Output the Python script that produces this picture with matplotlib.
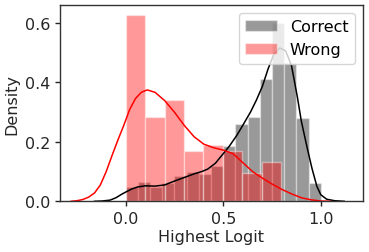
import numpy as np
import matplotlib
matplotlib.use("Agg")
import matplotlib.pyplot as plt

# histogram of "Correct" (16 bins over 0..1)
correct_edges = np.linspace(0.0, 1.0, 17)
correct_heights = [0.049, 0.066, 0.048, 0.062, 0.086, 0.097, 0.092, 0.118,
                   0.187, 0.260, 0.282, 0.411, 0.598, 0.465, 0.279, 0.061]

# histogram of "Wrong" (8 bins over 0..0.8)
wrong_edges = np.linspace(0.0, 0.797, 9)
wrong_heights = [0.627, 0.283, 0.341, 0.170, 0.188, 0.170, 0.094, 0.131]

# kde curves
correct_kde_x = [-0.16, -0.12, -0.08, -0.05, -0.02, 0.0, 0.03, 0.06, 0.10, 0.15,
                 0.20, 0.25, 0.30, 0.35, 0.39, 0.42, 0.46, 0.49, 0.53, 0.57,
                 0.60, 0.64, 0.67, 0.70, 0.73, 0.76, 0.79, 0.82, 0.85, 0.88,
                 0.90, 0.93, 0.955, 0.98, 1.0, 1.03, 1.07, 1.12]
correct_kde_y = [0.0, 0.001, 0.004, 0.012, 0.024, 0.031, 0.041, 0.048, 0.052, 0.051,
                 0.055, 0.068, 0.080, 0.092, 0.100, 0.108, 0.128, 0.152, 0.184, 0.222,
                 0.255, 0.300, 0.340, 0.385, 0.445, 0.495, 0.515, 0.505, 0.455, 0.350,
                 0.270, 0.180, 0.110, 0.050, 0.022, 0.007, 0.002, 0.0]

wrong_kde_x = [-0.28, -0.25, -0.22, -0.19, -0.16, -0.13, -0.10, -0.07, -0.04, -0.01,
               0.02, 0.05, 0.08, 0.11, 0.15, 0.20, 0.25, 0.30, 0.35, 0.40,
               0.45, 0.50, 0.55, 0.60, 0.65, 0.70, 0.75, 0.80, 0.85, 0.90,
               0.95, 1.0, 1.05]
wrong_kde_y = [0.0, 0.002, 0.006, 0.014, 0.028, 0.055, 0.100, 0.154, 0.206, 0.255,
               0.308, 0.345, 0.366, 0.374, 0.366, 0.338, 0.299, 0.255, 0.217, 0.192,
               0.180, 0.172, 0.160, 0.130, 0.100, 0.078, 0.058, 0.040, 0.025, 0.012,
               0.005, 0.001, 0.0]

fs = 11.5
dark = "#262626"

fig = plt.figure(figsize=(3.69, 2.53), dpi=100)
ax = fig.add_axes([0.1626, 0.2004, 0.8204, 0.7757])

ax.bar(correct_edges[:-1], correct_heights, width=np.diff(correct_edges), align="edge",
       color="k", alpha=0.4, edgecolor="w", linewidth=1, label="Correct")
ax.plot(correct_kde_x, correct_kde_y, color="k", lw=1.1)

ax.bar(wrong_edges[:-1], wrong_heights, width=np.diff(wrong_edges), align="edge",
       color="r", alpha=0.4, edgecolor="w", linewidth=1, label="Wrong")
ax.plot(wrong_kde_x, wrong_kde_y, color="r", lw=1.1)

ax.set_xlim(-0.337, 1.215)
ax.set_ylim(0, 0.659)
ax.set_xticks([0.0, 0.5, 1.0])
ax.set_yticks([0.0, 0.2, 0.4, 0.6])
ax.tick_params(direction="out", length=3.5, width=1, colors=dark, labelsize=fs)
for s in ax.spines.values():
    s.set_color("#333333")
    s.set_linewidth(1)

ax.set_xlabel("Highest Logit", fontsize=fs, color=dark, labelpad=2)
ax.set_ylabel("Density", fontsize=fs, color=dark, labelpad=4)

ax.legend(loc="upper right", fontsize=fs, borderaxespad=0.5, handletextpad=0.8)

fig.savefig("out.png", dpi=100)
